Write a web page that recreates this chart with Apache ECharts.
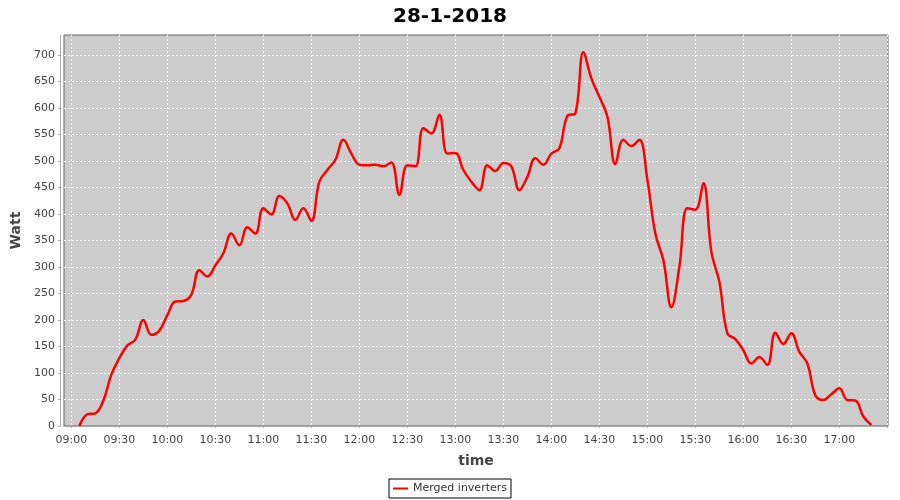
<!DOCTYPE html>
<html>
<head>
<meta charset="utf-8">
<script src="https://cdn.jsdelivr.net/npm/echarts@6/dist/echarts.min.js"></script>
<style>
  html, body { margin: 0; padding: 0; background: #fff; }
  #chart { width: 900px; height: 500px; }
</style>
</head>
<body>
<div id="chart"></div>
<script>
  // 5 minute samples
  var times = [
    '09:05','09:10','09:15','09:20','09:25','09:30','09:35','09:40','09:45','09:50','09:55',
    '10:00','10:05','10:10','10:15','10:20','10:25','10:30','10:35','10:40','10:45','10:50','10:55',
    '11:00','11:05','11:10','11:15','11:20','11:25','11:30','11:35','11:40','11:45','11:50','11:55',
    '12:00','12:05','12:10','12:15','12:20','12:25','12:30','12:35','12:40','12:45','12:50','12:55',
    '13:00','13:05','13:10','13:15','13:20','13:25','13:30','13:35','13:40','13:45','13:50','13:55',
    '14:00','14:05','14:10','14:15','14:20','14:25','14:30','14:35','14:40','14:45','14:50','14:55',
    '15:00','15:05','15:10','15:15','15:20','15:25','15:30','15:35','15:40','15:45','15:50','15:55',
    '16:00','16:05','16:10','16:15','16:20','16:25','16:30','16:35','16:40','16:45','16:50','16:55',
    '17:00','17:05','17:10','17:15','17:20'
  ];
  var watts = [
    0, 22, 24, 48, 97, 128, 152, 163, 200, 172, 180,
    209, 235, 236, 248, 294, 282, 303, 326, 363, 341, 375, 363,
    411, 399, 434, 420, 389, 411, 387, 461, 483, 502, 540, 514,
    493, 492, 493, 490, 497, 436, 492, 490, 562, 552, 587, 514,
    515, 483, 461, 445, 492, 481, 496, 490, 445, 470, 505, 493,
    514, 524, 585, 590, 705, 656, 621, 584, 494, 540, 528, 540,
    465, 363, 313, 224, 300, 411, 408, 458, 329, 272, 175, 164,
    143, 118, 130, 115, 176, 155, 175, 140, 118, 58, 49, 60,
    71, 49, 48, 18, 2
  ];
  var seriesName = 'Merged inverters';
  var chartTitle = '28-1-2018';
  var lastTickLabel = 17 * 60; // last labelled tick is 17:00

  function toMin(s) {
    var p = s.split(':');
    return parseInt(p[0], 10) * 60 + parseInt(p[1], 10);
  }
  function fmt(v) {
    var h = Math.floor(v / 60), m = Math.round(v - h * 60);
    return (h < 10 ? '0' : '') + h + ':' + (m < 10 ? '0' : '') + m;
  }

  var points = times.map(function (t, i) { return [toMin(t), watts[i]]; });

  var font = 'DejaVu Sans';
  var chart = echarts.init(document.getElementById('chart'));
  chart.setOption({
    animation: false,
    backgroundColor: '#fff',
    title: {
      text: chartTitle,
      left: 'center',
      top: 2,
      textStyle: { fontFamily: font, fontSize: 20, fontWeight: 'bold', color: '#000' }
    },
    legend: {
      bottom: 2,
      left: 'center',
      data: [seriesName],
      icon: 'rect',
      itemWidth: 15,
      itemHeight: 2,
      itemGap: 4,
      padding: [4, 4],
      borderColor: '#000',
      borderWidth: 1,
      backgroundColor: '#fff',
      textStyle: { fontFamily: font, fontSize: 11, color: '#333' }
    },
    grid: {
      left: 64,
      right: 12,
      top: 35,
      bottom: 74,
      outerBoundsMode: 'none',
      show: true,
      backgroundColor: '#cccccc',
      borderColor: '#666',
      borderWidth: 1
    },
    xAxis: {
      type: 'value',
      min: 535.4,
      max: 1050.4,
      splitNumber: 17,
      offset: 4,
      name: 'time',
      nameLocation: 'middle',
      nameGap: 24,
      nameTextStyle: { fontFamily: font, fontSize: 14, fontWeight: 'bold', color: '#444' },
      axisLine: { show: true, lineStyle: { color: '#aaa' } },
      axisTick: { show: true, length: 2, lineStyle: { color: '#aaa' } },
      axisLabel: {
        fontFamily: font, fontSize: 11, color: '#444', margin: 5,
        showMinLabel: false, showMaxLabel: false,
        formatter: function (v) {
          return (Math.abs(v % 30) < 0.01 && v <= lastTickLabel) ? fmt(v) : '';
        }
      },
      splitLine: {
        show: true, showMinLine: false, showMaxLine: false,
        lineStyle: { color: '#f2f2f2', type: [2, 2], width: 1 }
      }
    },
    yAxis: {
      type: 'value',
      min: 0,
      max: 737.7,
      interval: 50,
      offset: 4,
      name: 'Watt',
      nameLocation: 'middle',
      nameGap: 27,
      nameTextStyle: { fontFamily: font, fontSize: 14, fontWeight: 'bold', color: '#444' },
      axisLine: { show: true, lineStyle: { color: '#aaa' } },
      axisTick: { show: true, length: 2, lineStyle: { color: '#aaa' } },
      axisLabel: {
        fontFamily: font, fontSize: 11, color: '#444', margin: 5,
        showMaxLabel: false
      },
      splitLine: {
        show: true, showMinLine: false, showMaxLine: false,
        lineStyle: { color: '#f2f2f2', type: [2, 2], width: 1 }
      }
    },
    series: [{
      name: seriesName,
      type: 'line',
      data: points,
      smooth: 0.4,
      showSymbol: false,
      lineStyle: { color: '#ff0000', width: 2.5 },
      itemStyle: { color: '#ff0000' }
    }]
  });
</script>
</body>
</html>
